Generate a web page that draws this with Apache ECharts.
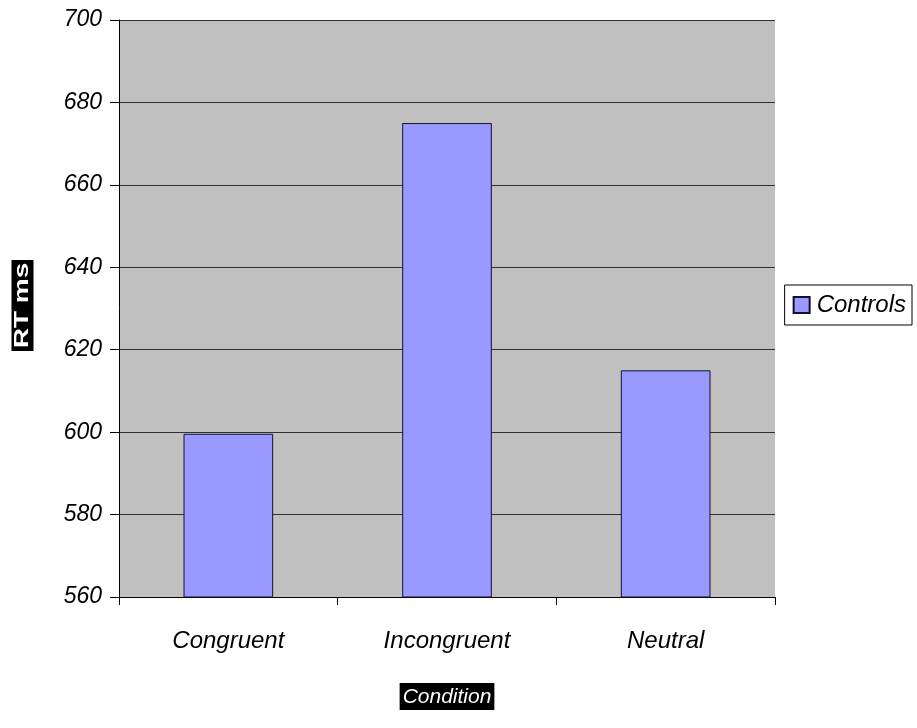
<!DOCTYPE html>
<html>
<head>
<meta charset="utf-8">
<script src="https://cdn.jsdelivr.net/npm/echarts@6/dist/echarts.min.js"></script>
<style>
  html, body { margin: 0; padding: 0; background: #fff; }
  #chart { width: 917px; height: 728px; }
</style>
</head>
<body>
<div id="chart"></div>
<script>
// Reaction times by Stroop condition
const categories = ['Congruent', 'Incongruent', 'Neutral'];
const controlsRT = [599.6, 675, 615];
const seriesName = 'Controls';
const yMin = 560, yMax = 700, yStep = 20;

const sans = '"Liberation Sans", Arial, sans-serif';
const chart = echarts.init(document.getElementById('chart'), null, { renderer: 'canvas' });
const labelFont = { fontFamily: sans, fontStyle: 'italic', color: '#000' };

chart.setOption({
  animation: false,
  grid: {
    left: 119, right: 142, top: 20, bottom: 131,
    containLabel: false, outerBoundsMode: 'none',
    show: true, backgroundColor: '#c0c0c0', borderWidth: 0
  },
  legend: {
    data: [seriesName],
    right: 5, top: 285,
    orient: 'vertical',
    itemWidth: 16, itemHeight: 16, itemGap: 6,
    padding: [8, 6, 8, 8],
    borderColor: '#000', borderWidth: 1, borderRadius: 0,
    icon: 'rect',
    textStyle: Object.assign({ fontSize: 24, padding: [0, 0, 0, 2] }, labelFont)
  },
  // rotated, stretched y-axis title in a black box
  graphic: [{
    type: 'text',
    x: 22.5, y: 305.5,
    rotation: Math.PI / 2,
    scaleX: 1.4,
    style: {
      text: 'RT ms',
      fontFamily: sans,
      fontWeight: 'bold', fontSize: 20,
      fill: '#fff',
      backgroundColor: '#000',
      padding: [1, 2, 1, 2],
      align: 'center', verticalAlign: 'middle'
    }
  }],
  xAxis: {
    type: 'category',
    data: categories,
    name: 'Condition',
    nameLocation: 'middle',
    nameGap: 86,
    nameTextStyle: {
      fontFamily: sans, fontStyle: 'italic', fontSize: 21,
      color: '#fff', backgroundColor: '#000', padding: [4, 3, 2, 3]
    },
    axisLine: { lineStyle: { color: '#000', width: 1 } },
    axisTick: { show: true, length: 8, alignWithLabel: false, lineStyle: { color: '#000' } },
    axisLabel: Object.assign({ margin: 32, fontSize: 24 }, labelFont)
  },
  yAxis: {
    type: 'value',
    min: yMin, max: yMax, interval: yStep,
    axisLine: { show: true, lineStyle: { color: '#000', width: 1 } },
    axisTick: { show: true, length: 9, lineStyle: { color: '#000' } },
    splitLine: { show: true, lineStyle: { color: '#303030', width: 1 } },
    axisLabel: Object.assign({ margin: 17, fontSize: 23 }, labelFont)
  },
  series: [{
    name: seriesName,
    type: 'bar',
    data: controlsRT,
    barCategoryGap: '59%',
    itemStyle: { color: '#9999ff', borderColor: '#101030', borderWidth: 1 }
  }]
});
</script>
</body>
</html>
